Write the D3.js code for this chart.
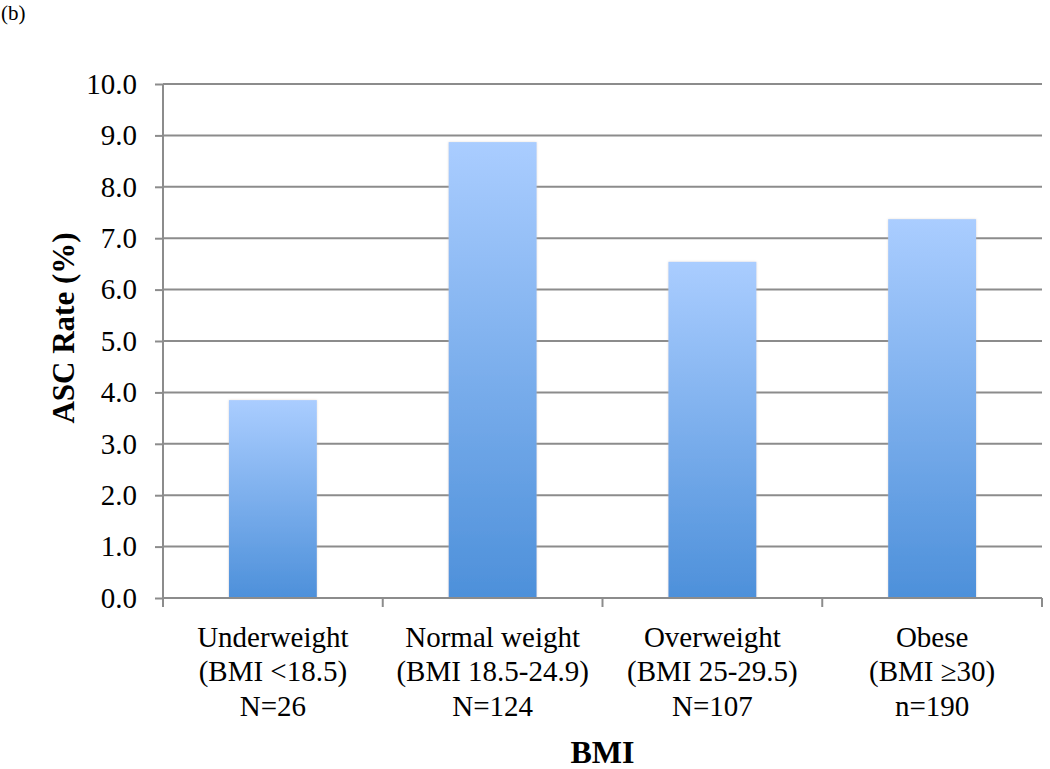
<!DOCTYPE html>
<html>
<head>
<meta charset="utf-8">
<script src="https://cdn.jsdelivr.net/npm/d3@7"></script>
<style>
  html, body { margin: 0; padding: 0; background: #fff; }
  svg { display: block; font-family: "Liberation Serif", "Times New Roman", serif; }
</style>
</head>
<body>
<svg id="chart" width="1050" height="769"></svg>
<script>
// Data
const categories = ["Underweight", "Normal weight", "Overweight", "Obese"];
const categoryRanges = ["(BMI <18.5)", "(BMI 18.5-24.9)", "(BMI 25-29.5)", "(BMI \u226530)"];
const categoryCounts = ["N=26", "N=124", "N=107", "n=190"];
const ascRate = [3.85, 8.87, 6.54, 7.37];
const yTicks = [0, 1, 2, 3, 4, 5, 6, 7, 8, 9, 10];

(function () {
const svg = d3.select("#chart");
const mLeft = 163, mRight = 1042, mTop = 84, mBottom = 598;
const gridColor = "#8c8c8c";
const serif = "Liberation Serif, Times New Roman, serif";

const y = d3.scaleLinear().domain([0, 10]).range([mBottom, mTop]);
const x = d3.scaleBand().domain(categories).range([mLeft, mRight])
  .paddingInner(0.6).paddingOuter(0.3);

// gradient
const defs = svg.append("defs");
const grad = defs.append("linearGradient").attr("id", "barGrad")
  .attr("x1", 0).attr("y1", 0).attr("x2", 0).attr("y2", 1);
grad.append("stop").attr("offset", "0%").attr("stop-color", "#aacdff");
grad.append("stop").attr("offset", "100%").attr("stop-color", "#4d90da");

const glow = defs.append("filter").attr("id", "glow")
  .attr("x", "-10%").attr("y", "-10%").attr("width", "120%").attr("height", "120%");
glow.append("feGaussianBlur").attr("in", "SourceAlpha").attr("stdDeviation", 1.2).attr("result", "b");
glow.append("feFlood").attr("flood-color", "#c9b8a8").attr("flood-opacity", 0.5);
glow.append("feComposite").attr("in2", "b").attr("operator", "in");
const fm = glow.append("feMerge");
fm.append("feMergeNode");
fm.append("feMergeNode").attr("in", "SourceGraphic");

// "(b)"
svg.append("text").attr("x", 1).attr("y", 20)
  .attr("font-size", 21).attr("font-family", serif).attr("fill", "#000").text("(b)");

// gridlines
svg.append("g").selectAll("line").data(yTicks.filter(d => d > 0)).join("line")
  .attr("x1", mLeft).attr("x2", mRight)
  .attr("y1", d => y(d)).attr("y2", d => y(d))
  .attr("stroke", gridColor).attr("stroke-width", 2);

// y axis
const yAxis = svg.append("g").attr("transform", `translate(${mLeft},0)`)
  .call(d3.axisLeft(y).tickValues(yTicks).tickFormat(d3.format(".1f")).tickSize(8).tickPadding(18));
yAxis.select(".domain").attr("stroke", gridColor).attr("stroke-width", 2)
  .attr("d", `M0,${mTop}V${mBottom + 9}`);
yAxis.selectAll(".tick line").attr("stroke", gridColor).attr("stroke-width", 2);
yAxis.selectAll(".tick text").attr("font-size", 29).attr("fill", "#000")
  .attr("font-family", serif);

// bars
svg.append("g").selectAll("rect").data(categories).join("rect")
  .attr("x", d => x(d))
  .attr("width", x.bandwidth())
  .attr("y", (d, i) => y(ascRate[i]))
  .attr("height", (d, i) => y(0) - y(ascRate[i]))
  .attr("fill", "url(#barGrad)")
  .attr("filter", "url(#glow)");

// x axis line
svg.append("line").attr("x1", mLeft).attr("x2", mRight)
  .attr("y1", mBottom).attr("y2", mBottom)
  .attr("stroke", gridColor).attr("stroke-width", 2);

// category boundary ticks
const step = x.step();
const bounds = categories.map(d => x(d) + x.bandwidth() / 2 + step / 2);
svg.append("g").selectAll("line").data(bounds).join("line")
  .attr("x1", d => d).attr("x2", d => d)
  .attr("y1", mBottom).attr("y2", mBottom + 9)
  .attr("stroke", gridColor).attr("stroke-width", 2);

// category labels
const lab = svg.append("g").selectAll("text").data(categories).join("text")
  .attr("text-anchor", "middle").attr("font-size", 29).attr("font-family", serif).attr("fill", "#000")
  .attr("transform", d => `translate(${x(d) + x.bandwidth() / 2},0)`);
lab.append("tspan").attr("x", 0).attr("y", 647).text(d => d);
lab.append("tspan").attr("x", 0).attr("y", 681).text((d, i) => categoryRanges[i]);
lab.append("tspan").attr("x", 0).attr("y", 716).text((d, i) => categoryCounts[i]);

// axis titles
svg.append("text").attr("x", (mLeft + mRight) / 2).attr("y", 763)
  .attr("text-anchor", "middle").attr("font-size", 32).attr("font-weight", "bold")
  .attr("font-family", serif).attr("fill", "#000").text("BMI");
svg.append("text").attr("transform", `translate(74,328) rotate(-90)`)
  .attr("text-anchor", "middle").attr("font-size", 31).attr("font-weight", "bold")
  .attr("font-family", serif).attr("fill", "#000").text("ASC Rate (%)");
})();
</script>
</body>
</html>
